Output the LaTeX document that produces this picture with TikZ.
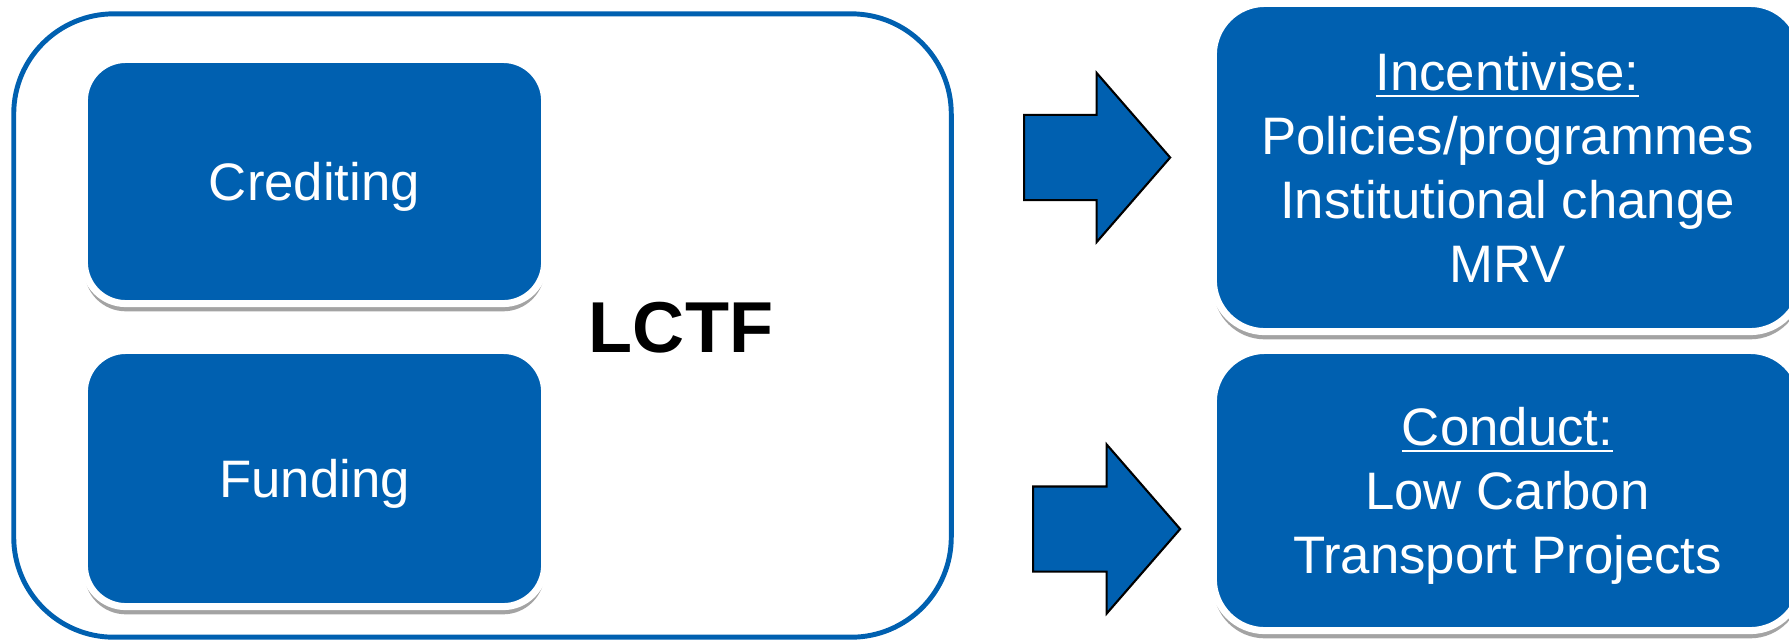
\documentclass[tikz,border=0pt]{standalone}
\usepackage{fontspec}
\setmainfont{Liberation Sans}
\usepackage{xcolor}
\definecolor{lctfBlue}{HTML}{0060B0}
\definecolor{shadowGrey}{HTML}{8C8C8C}
\usepackage{tikz}
\usetikzlibrary{shapes,arrows,positioning,calc,shadows}
\tikzset{%
  frameBox/.style={%
    rectangle,
    rounded corners=1cm,
    draw=lctfBlue,
    line width=1.4pt,
    fill=white,
    inner sep=0pt
  },
  blueBox/.style={%
    rectangle,
    rounded corners=0.415cm,
    draw=white,
    line width=2pt,
    fill=lctfBlue,
    text=white,
    inner sep=0pt,
    text depth=0pt,
    align=center,
    font=\fontsize{15}{18.2}\selectfont,
    drop shadow={shadow xshift=0pt, shadow yshift=-2.2pt, fill=shadowGrey, opacity=0.8}
  },
  blockArrow/.style={%
    single arrow,
    draw=black,
    line width=0.6pt,
    fill=lctfBlue,
    inner xsep=0pt,
    inner ysep=0.415cm,
    minimum height=1.46cm,
    single arrow head extend=0.42cm,
    single arrow tip angle=98
  }
}

\begin{document}
\begin{tikzpicture}[x=0.01cm, y=-0.01cm]
            \useasboundingbox (0,0) rectangle (1789,641);

            \node[frameBox, minimum width=9.37cm, minimum height=6.23cm] (frame) at (482.5,325.5) {};
            \node[blueBox, minimum width=4.6cm, minimum height=2.44cm] (crediting) at (314.5,181.5) {Crediting};
            \node[blueBox, minimum width=4.6cm, minimum height=2.56cm] (funding) at (314.5,478.5) {Funding};
            \node[font=\bfseries\fontsize{20.5}{24}\selectfont] (lctfLabel) at (681,328) {LCTF};

            \node[blueBox, rounded corners=0.515cm, minimum width=5.88cm, minimum height=3.28cm] (incentivise) at (1507.5,167.5)
                {\underline{Incentivise:}\\Policies/programmes\\Institutional change\\MRV};
            \node[blueBox, rounded corners=0.515cm, minimum width=5.88cm, minimum height=2.80cm] (conduct) at (1507.5,490.5)
                {\underline{Conduct:}\\Low Carbon\hspace*{.278em}\\Transport Projects};

            \node[blockArrow, anchor=tail] (toIncentivise) at (1023,157.5) {};
            \node[blockArrow, anchor=tail, minimum height=1.47cm] (toConduct) at (1032,529) {};
        \end{tikzpicture}
\end{document}
